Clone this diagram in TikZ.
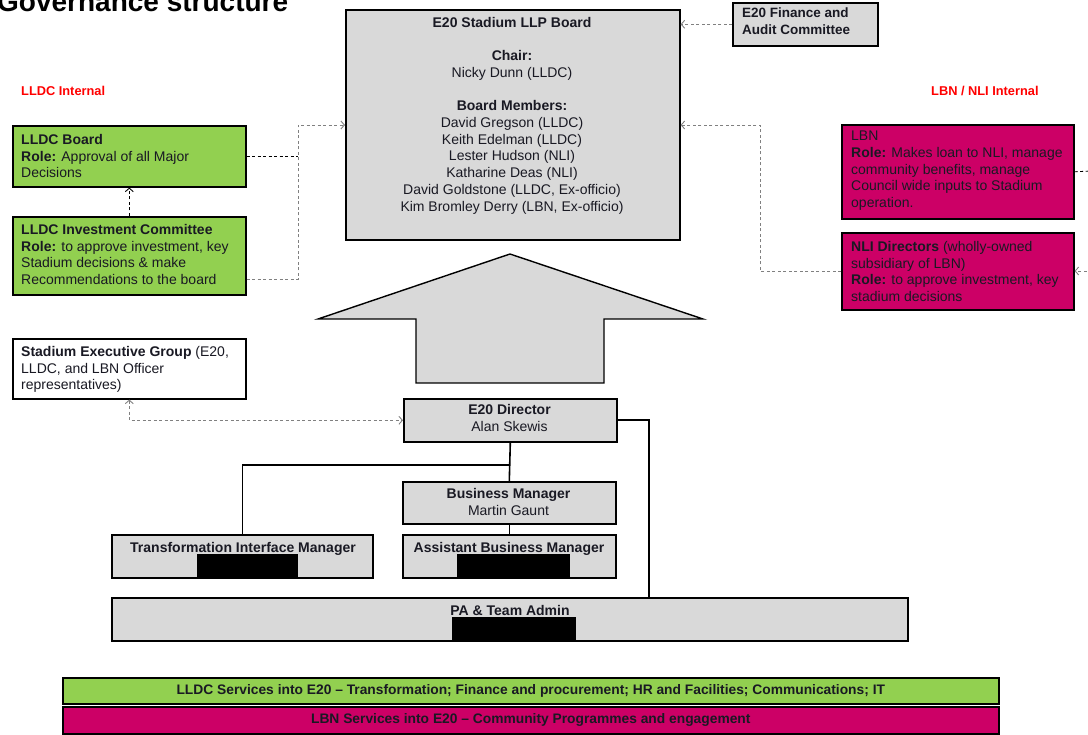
\documentclass[tikz,border=0pt]{standalone}
\usepackage{fontspec}
\setmainfont{Liberation Sans}
\usetikzlibrary{arrows.meta}
\definecolor{boxgray}{RGB}{217,217,217}
\definecolor{lgreen}{RGB}{146,208,80}
\definecolor{lmag}{RGB}{204,0,102}
\definecolor{dashgray}{RGB}{128,128,128}
\definecolor{txt}{RGB}{25,25,35}
\begin{document}
\begin{tikzpicture}[x=1pt,y=-1pt,
  box/.style={draw=black, line width=1.6pt, inner sep=0pt, anchor=north west},
  graybox/.style={box, fill=boxgray},
  greenbox/.style={box, fill=lgreen},
  magbox/.style={box, fill=lmag},
  whitebox/.style={box, fill=white},
  redact/.style={fill=black, inner sep=0pt, anchor=north west},
  tx/.style={font=\fontsize{14}{16.7}\selectfont, inner sep=0pt, text=txt},
  ltx/.style={tx, align=left, anchor=north west},
  ctx/.style={tx, align=center},
  bartx/.style={font=\fontsize{13.8}{16}\selectfont\bfseries, text=txt},
  redlbl/.style={font=\fontsize{12.8}{15}\selectfont\bfseries, text=red, inner sep=0pt, anchor=west},
  dline/.style={dash pattern=on 3pt off 2.5pt, line width=0.9pt},
  gdash/.style={dline, draw=dashgray},
  kdash/.style={dline, draw=black},
  tip/.style={-{Straight Barb[length=3.5pt,width=8pt]}},
  tips/.style={{Straight Barb[length=3.5pt,width=8pt]}-{Straight Barb[length=3.5pt,width=8pt]}},
  sline/.style={line width=1.6pt, draw=black},
]
\useasboundingbox (0,0) rectangle (1088,735);

% title and section labels
\node[font=\fontsize{28}{30}\selectfont\bfseries, inner sep=0pt, anchor=base west] (title) at (-3,12) {Governance structure};
\node[redlbl] (lldcint) at (21,91) {LLDC Internal};
\node[redlbl] (lbnint) at (931,91) {LBN / NLI Internal};

% main board
\node[graybox, minimum width=334pt, minimum height=230pt] (board) at (345,9) {};
\node[ctx, anchor=north] (boardtxt) at (512,17) {\textbf{E20 Stadium LLP Board}\\[16.7pt]
\textbf{Chair:}\\ Nicky Dunn (LLDC)\\[16.7pt]
\textbf{Board Members:}\\ David Gregson (LLDC)\\ Keith Edelman (LLDC)\\ Lester Hudson (NLI)\\ Katharine Deas (NLI)\\ David Goldstone (LLDC, Ex-officio)\\ Kim Bromley Derry (LBN, Ex-officio)};

% finance committee
\node[graybox, minimum width=145pt, minimum height=43pt] (fin) at (732,2) {};
\node[ltx, font=\fontsize{13.5}{17}\selectfont\bfseries] (fintxt) at (742,8) {E20 Finance and\\Audit Committee};

% LLDC boxes
\node[greenbox, minimum width=233pt, minimum height=61pt] (lldcb) at (12,125) {};
\node[ltx] (lldcbtxt) at (21,134) {\textbf{LLDC Board}\\ \textbf{Role:} Approval of all Major\\ Decisions};
\node[greenbox, minimum width=233pt, minimum height=78pt] (invc) at (12,216) {};
\node[ltx] (invctxt) at (21,224) {\textbf{LLDC Investment Committee}\\ \textbf{Role:} to approve investment, key\\ Stadium decisions \& make\\ Recommendations to the board};

% LBN boxes
\node[magbox, minimum width=232pt, minimum height=94pt] (lbn) at (841,124) {};
\node[ltx] (lbntxt) at (851,131) {LBN\\ \textbf{Role:} Makes loan to NLI, manage\\ community benefits, manage\\ Council wide inputs to Stadium\\ operation.};
\node[magbox, minimum width=232pt, minimum height=77pt] (nli) at (841,232) {};
\node[ltx] (nlitxt) at (851,241) {\textbf{NLI Directors} (wholly-owned\\ subsidiary of LBN)\\ \textbf{Role:} to approve investment, key\\ stadium decisions};

% stadium executive group
\node[whitebox, minimum width=233pt, minimum height=60pt] (seg) at (12,338) {};
\node[ltx] (segtxt) at (21,346) {\textbf{Stadium Executive Group} (E20,\\ LLDC, and LBN Officer\\ representatives)};

% big arrow
\filldraw[fill=boxgray, draw=black, line width=1.4pt, line join=miter]
  (510,254) -- (703,319) -- (604,319) -- (604,383) -- (416,383) -- (416,319) -- (318,319) -- cycle;

% E20 team
\node[graybox, minimum width=213pt, minimum height=43pt] (dir) at (403,398) {};
\node[ctx, anchor=north] (dirtxt) at (509.5,404) {\textbf{E20 Director}\\ Alan Skewis};
\node[graybox, minimum width=213pt, minimum height=42pt] (bm) at (402,481) {};
\node[ctx, anchor=north] (bmtxt) at (508.5,488) {\textbf{Business Manager}\\ Martin Gaunt};
\node[graybox, minimum width=213pt, minimum height=43pt] (abm) at (402,534) {};
\node[ctx, anchor=north] (abmtxt) at (509,542) {\textbf{Assistant Business Manager}};
\node[redact, minimum width=113pt, minimum height=25pt] (abmred) at (457,554) {};
\node[graybox, minimum width=261pt, minimum height=43pt] (tim) at (111,534) {};
\node[ctx, anchor=north] (timtxt) at (243,542) {\textbf{Transformation Interface Manager}};
\node[redact, minimum width=101pt, minimum height=23pt] (timred) at (197,554) {};
\node[graybox, minimum width=796pt, minimum height=43pt] (pa) at (111,597) {};
\node[ctx, anchor=north] (patxt) at (510,605) {\textbf{PA \& Team Admin}};
\node[redact, minimum width=124pt, minimum height=23pt] (pared) at (452,617) {};

% service bars
\node[greenbox, bartx, minimum width=936pt, minimum height=26pt] (lldcsvc) at (62,677) {LLDC Services into E20 -- Transformation; Finance and procurement; HR and Facilities; Communications; IT};
\node[magbox, bartx, minimum width=936pt, minimum height=27pt] (lbnsvc) at (62,706) {LBN Services into E20 -- Community Programmes and engagement};

% dashed connectors
\draw[gdash, tip] (fin.west) -- (fin.west -| board.east);
\coordinate (lj) at (298,125);
\draw[kdash] (lldcb.east) -- (lldcb.east -| lj);
\draw[gdash, tip] ([yshift=16pt]invc.south east) -| (lj) -- (lj -| board.west);
\draw[kdash, tip] (invc.north) -- (lldcb.south);
\coordinate (lbnoff) at (1092,171);
\draw[kdash] (lbn.east) -- (lbnoff);
\coordinate (nlioff) at (1092,271);
\draw[gdash, tip] (nlioff) -- (nlioff -| nli.east);
\coordinate (rj) at (760,125);
\draw[gdash, tip] (nli.west) -| (rj) -- (rj -| board.east);
\draw[gdash, tips] (seg.south) |- (dir.west);

% solid reporting lines
\draw[sline] (dir.south) -- (bm.north);
\coordinate (bj) at (509.5,465);
\draw[sline] (bj) -| (tim.north);
\draw[sline] (bm.south) -- (abm.north);
\coordinate (paR) at (649,597);
\draw[sline] (dir.east) -| (paR);
\end{tikzpicture}
\end{document}
